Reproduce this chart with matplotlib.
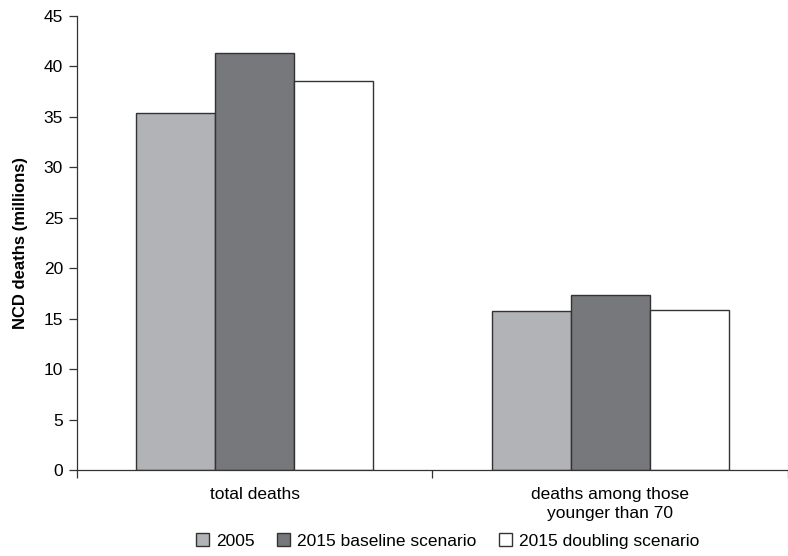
import numpy as np
import matplotlib
matplotlib.use("Agg")
import matplotlib.pyplot as plt

plt.rcParams['font.family'] = ['Liberation Sans', 'DejaVu Sans']

# data
categories = ['total deaths', 'deaths among those\nyounger than 70']
series = ['2005', '2015 baseline scenario', '2015 doubling scenario']
values_2005 = [35.4, 15.8]
values_base = [41.3, 17.3]
values_double = [38.6, 15.9]
yticks = [0, 5, 10, 15, 20, 25, 30, 35, 40, 45]

colors = ['#b1b3b6', '#77787b', '#ffffff']

fig = plt.figure(figsize=(7.88, 5.56), dpi=100)
ax = fig.add_axes([0.0977, 0.1547, 0.9023, 0.8166])

x = np.arange(len(categories))
w = 0.222
for i, (vals, lab) in enumerate(zip([values_2005, values_base, values_double], series)):
    ax.bar(x + (i - 1) * w, vals, width=w, color=colors[i], edgecolor='#333333',
           linewidth=1.0, label=lab)

ax.set_xlim(-0.5, 1.5)
ax.set_ylim(0, 45)
ax.set_yticks(yticks)
ax.set_xticks(x)
ax.set_xticklabels(categories, fontsize=12.5, linespacing=1.35)
ax.set_xticks([-0.5, 0.5, 1.5], minor=True)
ax.tick_params(axis='x', which='major', length=0, pad=12)
ax.tick_params(axis='x', which='minor', length=6, width=0.9, direction='out', color='#333333')
ax.tick_params(axis='y', length=6, width=0.9, direction='out', labelsize=12.5,
               color='#333333', pad=4)
ax.spines['top'].set_visible(False)
ax.spines['right'].set_visible(False)
for s in ['left', 'bottom']:
    ax.spines[s].set_linewidth(0.9)
    ax.spines[s].set_color('#333333')

ax.set_ylabel('NCD deaths (millions)', fontsize=12, fontweight='bold', labelpad=11)

fig.legend(loc='center', bbox_to_anchor=(448 / 788, 1 - 541 / 556), ncol=3,
           frameon=False, fontsize=12.5, handlelength=0.75, handleheight=0.75,
           handletextpad=0.4, columnspacing=1.3)

fig.savefig('out.png', dpi=100)
